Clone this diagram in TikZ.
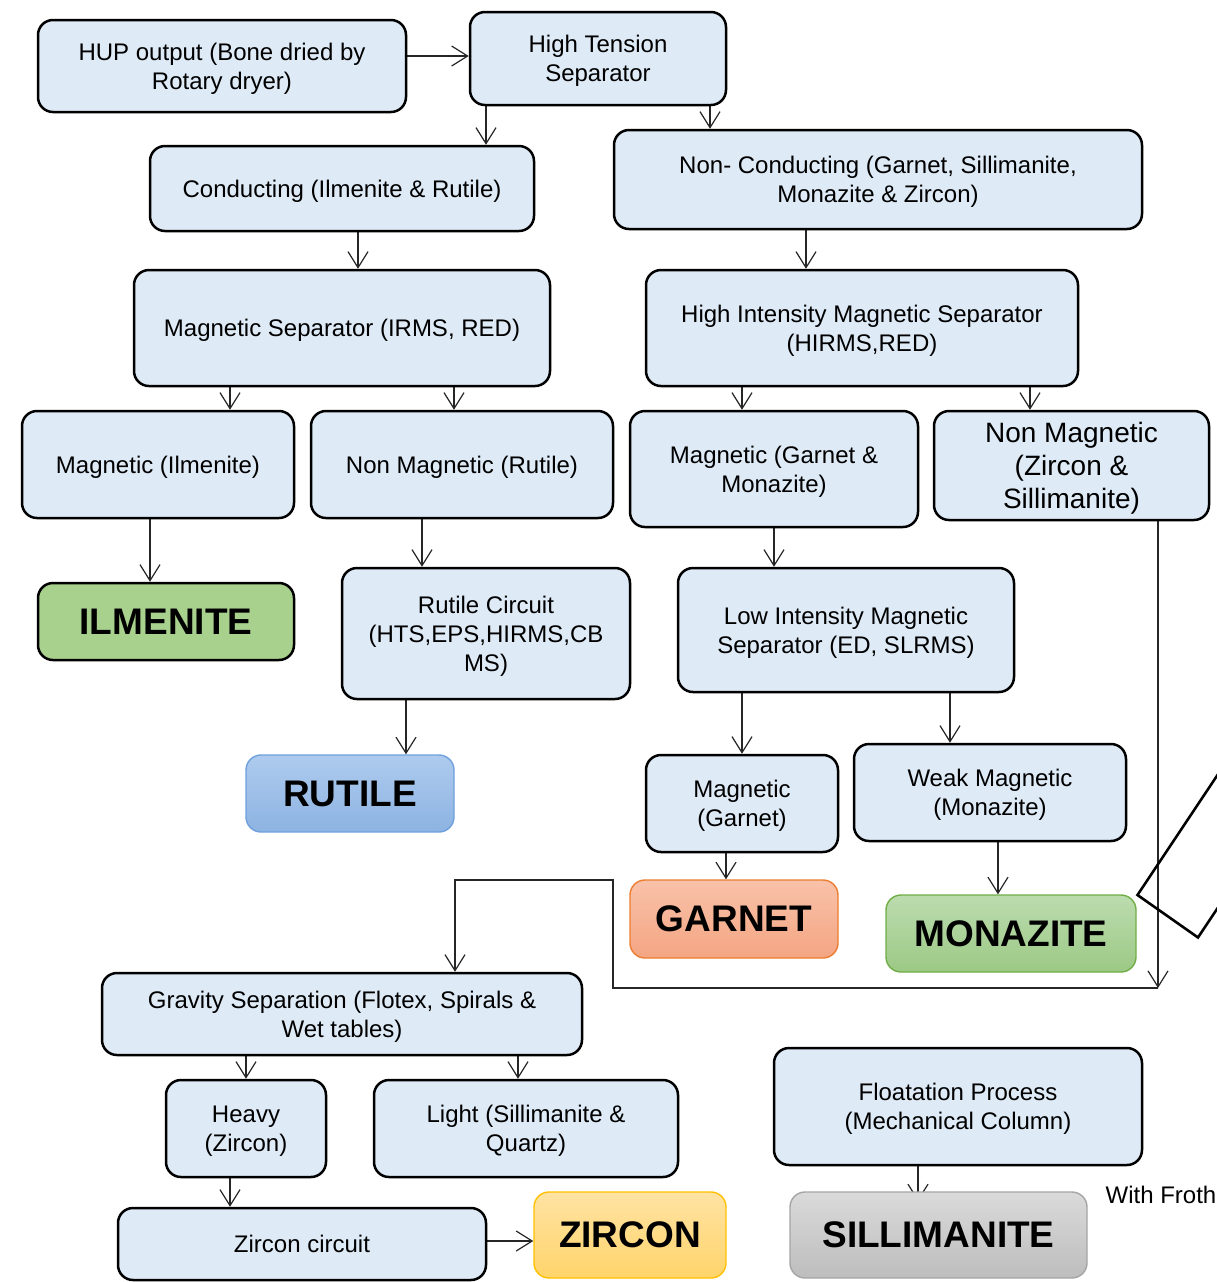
\documentclass[tikz,border=0pt]{standalone}
\usepackage{fontspec}
\setmainfont{Liberation Sans}
\usetikzlibrary{arrows.meta,calc}
\definecolor{boxblue}{HTML}{DEEAF6}
\definecolor{ilmgreen}{HTML}{A9D18E}
\definecolor{rutT}{HTML}{AECBEE}
\definecolor{rutB}{HTML}{8DB3E2}
\definecolor{rutD}{HTML}{6FA0DC}
\definecolor{garT}{HTML}{F8C2A9}
\definecolor{garB}{HTML}{F4A582}
\definecolor{garD}{HTML}{ED7D31}
\definecolor{monT}{HTML}{BCDCAF}
\definecolor{monB}{HTML}{9CC985}
\definecolor{monD}{HTML}{70AD47}
\definecolor{zirT}{HTML}{FFE3A3}
\definecolor{zirB}{HTML}{FFD46B}
\definecolor{zirD}{HTML}{FFC000}
\definecolor{silT}{HTML}{DADADA}
\definecolor{silB}{HTML}{BDBDBD}
\definecolor{silD}{HTML}{A5A5A5}
\pgfdeclarelayer{bg}
\pgfsetlayers{bg,main}
\begin{document}
\begin{tikzpicture}[x=0.5pt,y=-0.5pt,
  sz/.style 2 args={minimum width={#1*0.5pt}, minimum height={#2*0.5pt}},
  box/.style={draw=black, line width=1.25pt, rounded corners=7.5pt, fill=boxblue,
    align=center, inner sep=0pt, font=\fontsize{12}{14.5}\selectfont,
    text depth=-0.5pt},
  final/.style={line width=0.7pt, rounded corners=7.5pt, inner sep=0pt,
    font=\fontsize{18.5}{22}\selectfont\bfseries, text depth=-3pt},
  arr/.style={draw=black!85, line width=0.6pt, -{Straight Barb[length=8pt,width=10pt]}},
  plain/.style={font=\fontsize{12}{14.5}\selectfont, inner sep=0pt}]
\useasboundingbox (0,0) rectangle (1217,1282);

% boxes
\node[box, sz={368}{92}] (hup) at (222,66) {HUP output (Bone dried by\\Rotary dryer)};
\node[box, sz={256}{93}] (hts) at (598,58.5) {High Tension\\Separator};
\node[box, sz={384}{85}] (cond) at (342,188.5) {Conducting (Ilmenite \& Rutile)};
\node[box, sz={528}{99}] (ncond) at (878,179.5) {Non- Conducting (Garnet, Sillimanite,\\Monazite \& Zircon)};
\node[box, sz={416}{116}] (ms) at (342,328) {Magnetic Separator (IRMS, RED)};
\node[box, sz={432}{116}] (hims) at (862,328) {High Intensity Magnetic Separator\\(HIRMS,RED)};
\node[box, sz={272}{107}] (mi) at (158,464.5) {Magnetic (Ilmenite)};
\node[box, sz={302}{107}] (nmr) at (462,464.5) {Non Magnetic (Rutile)};
\node[box, sz={288}{116}] (mgm) at (774,469) {Magnetic (Garnet \&\\Monazite)};
\node[box, sz={275}{109}, font=\fontsize{14}{16.5}\selectfont, text depth=-1.5pt] (nmzs) at (1071.5,465.5) {Non Magnetic\\(Zircon \&\\Sillimanite)};
\node[box, sz={256}{77}, fill=ilmgreen, font=\fontsize{18.5}{22}\selectfont\bfseries,
  text depth=-2pt] (ilm) at (166,621.5) {ILMENITE};
\node[box, sz={288}{131}] (rc) at (486,633.5) {Rutile Circuit\\(HTS,EPS,HIRMS,CB\\MS)};
\node[box, sz={336}{124}] (lims) at (846,630) {Low Intensity Magnetic\\Separator (ED, SLRMS)};
\node[final, sz={208}{77}, draw=rutD, top color=rutT, bottom color=rutB] (rut) at (350,793.5) {RUTILE};
\node[box, sz={192}{97}] (mg) at (742,803.5) {Magnetic\\(Garnet)};
\node[box, sz={272}{97}] (wm) at (990,792.5) {Weak Magnetic\\(Monazite)};
\node[final, sz={208}{78}, draw=garD, top color=garT, bottom color=garB] (gar) at (734,919) {GARNET};
\node[final, sz={250}{77}, draw=monD, top color=monT, bottom color=monB] (mon) at (1011,933.5) {MONAZITE};
\node[box, sz={480}{82}] (grav) at (342,1014) {Gravity Separation (Flotex, Spirals \&\\Wet tables)};
\node[box, sz={160}{97}] (heavy) at (246,1128.5) {Heavy\\(Zircon)};
\node[box, sz={304}{97}] (light) at (526,1128.5) {Light (Sillimanite \&\\Quartz)};
\node[box, sz={368}{117}] (flo) at (958,1106.5) {Floatation Process\\(Mechanical Column)};
\node[box, sz={368}{72}] (zc) at (302,1244) {Zircon circuit};
\node[final, sz={192}{86}, draw=zirD, top color=zirT, bottom color=zirB] (zir) at (630,1235) {ZIRCON};
\node[final, sz={297}{86}, draw=silD, top color=silT, bottom color=silB] (sil) at (938.5,1235) {SILLIMANITE};
\node[plain] (froth) at (1161,1195) {With Froth};

% loose rotated rectangle at the right edge
\begin{scope}
  \clip (0,0) rectangle (1217,1282);
  \draw[line width=1.3pt, line join=miter] (1137.5,895) -- (1198,937.5) -- ++(160,-240)
    -- ($(1137.5,895)+(160,-240)$) -- cycle;
\end{scope}

% route corners
\coordinate (c1) at (1158,988);
\coordinate (c2) at (613,988);
\coordinate (c3) at (613,880);
\coordinate (c4) at (455,880);

\begin{pgfonlayer}{bg}
\draw[arr] (hup.east |- 0,56) -- (hts.west |- 0,56);
\draw[arr] (486,0 |- hts.south) -- (486,0 |- cond.north);
\draw[arr] (710,0 |- hts.south) -- (710,0 |- ncond.north);
\draw[arr] (358,0 |- cond.south) -- (358,0 |- ms.north);
\draw[arr] (806,0 |- ncond.south) -- (806,0 |- hims.north);
\draw[arr] (230,0 |- ms.south) -- (230,0 |- mi.north);
\draw[arr] (454,0 |- ms.south) -- (454,0 |- nmr.north);
\draw[arr] (742,0 |- hims.south) -- (742,0 |- mgm.north);
\draw[arr] (1030,0 |- hims.south) -- (1030,0 |- nmzs.north);
\draw[arr] (150,0 |- mi.south) -- (150,0 |- ilm.north);
\draw[arr] (422,0 |- nmr.south) -- (422,0 |- rc.north);
\draw[arr] (774,0 |- mgm.south) -- (774,0 |- lims.north);
\draw[arr] (406,0 |- rc.south) -- (406,0 |- rut.north);
\draw[arr] (742,0 |- lims.south) -- (742,0 |- mg.north);
\draw[arr] (950,0 |- lims.south) -- (950,0 |- wm.north);
\draw[arr] (726,0 |- mg.south) -- (726,0 |- gar.north);
\draw[arr] (998,0 |- wm.south) -- (998,0 |- mon.north);
\draw[arr] (1158,0 |- nmzs.south) -- (c1);
\draw[arr] (c1) -- (c2) -- (c3) -- (c4) -- (455,0 |- grav.north);
\draw[arr] (246,0 |- grav.south) -- (246,0 |- heavy.north);
\draw[arr] (518,0 |- grav.south) -- (518,0 |- light.north);
\draw[arr] (230,0 |- heavy.south) -- (230,0 |- zc.north);
\draw[arr] (zc.east |- 0,1241) -- (zir.west |- 0,1241);
\draw[arr] (918,0 |- flo.south) -- ($(918,0 |- sil.north)+(0,10)$);
\end{pgfonlayer}
\end{tikzpicture}
\end{document}
